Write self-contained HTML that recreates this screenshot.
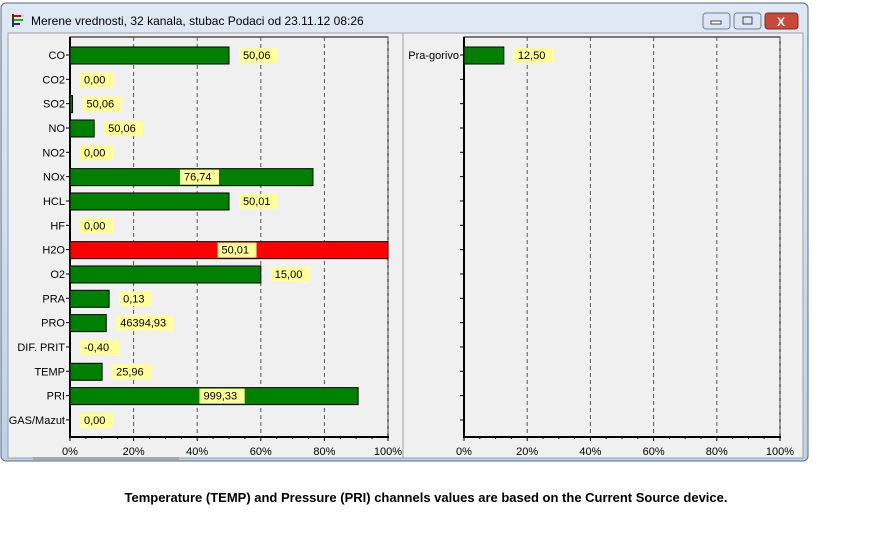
<!DOCTYPE html>
<html><head><meta charset="utf-8"><style>
body{margin:0;background:#fff;width:869px;height:537px;overflow:hidden;font-family:"Liberation Sans",sans-serif}
</style></head><body>
<svg width="869" height="537" xmlns="http://www.w3.org/2000/svg" font-family="Liberation Sans, sans-serif" font-size="11">
<defs><linearGradient id="tb" x1="0" y1="0" x2="0" y2="1"><stop offset="0" stop-color="#dfe9f5"/><stop offset="1" stop-color="#bcd1ea"/></linearGradient></defs>
<rect x="1" y="3" width="807" height="458" rx="5" fill="url(#tb)" stroke="#5a6a80"/>
<text x="31" y="25" font-size="12" fill="#000">Merene vrednosti, 32 kanala, stubac  Podaci od 23.11.12 08:26</text>
<g><rect x="12" y="14" width="2" height="13" fill="#333"/><rect x="14" y="15" width="7" height="2" fill="#c00"/><rect x="14" y="19" width="9" height="2" fill="#2a2"/><rect x="14" y="23" width="6" height="2" fill="#22c"/></g>
<rect x="703" y="13" width="27" height="16" rx="3" fill="#dce6f2" stroke="#6d7f99"/>
<rect x="711" y="21" width="10" height="3" fill="#fff" stroke="#445"/>
<rect x="734" y="13" width="27" height="16" rx="3" fill="#dce6f2" stroke="#6d7f99"/>
<rect x="743" y="17" width="9" height="7" fill="none" stroke="#445"/>
<rect x="765" y="13" width="33" height="16" rx="3" fill="#c9483a" stroke="#7a2a20"/>
<text x="781" y="26" text-anchor="middle" fill="#fff" font-weight="bold" font-size="12">X</text>
<rect x="8" y="33" width="795" height="425" fill="#f0f0f0" stroke="#a0a0a0"/>
<line x1="403" y1="33" x2="403" y2="458" stroke="#a0a0a0"/>
<rect x="33" y="457" width="146" height="3" fill="#a8a8a8"/>
<g id="left"></g>
<g id="right"></g>
<text x="426" y="502" text-anchor="middle" font-size="13" font-weight="bold">Temperature (TEMP) and Pressure (PRI) channels values are based on the Current Source device.</text>
</svg>
<script>
const leftCats=["CO","CO2","SO2","NO","NO2","NOx","HCL","HF","H2O","O2","PRA","PRO","DIF. PRIT","TEMP","PRI","GAS/Mazut"];
const leftPct=[50,0,0.8,7.6,0,76.4,50,0,100,60,12.3,11.4,0,10.1,90.6,0];
const leftLabels=["50,06","0,00","50,06","50,06","0,00","76,74","50,01","0,00","50,01","15,00","0,13","46394,93","-0,40","25,96","999,33","0,00"];
const leftAlarm=[0,0,0,0,0,0,0,0,1,0,0,0,0,0,0,0];
const rightCats=["Pra-gorivo"];
const rightPct=[12.6];
const rightLabels=["12,50"];
const rightAlarm=[0];
const ticks=["0%","20%","40%","60%","80%","100%"];
const NS="http://www.w3.org/2000/svg";
function mk(p,t,a){const e=document.createElementNS(NS,t);for(const k in a)e.setAttribute(k,a[k]);p.appendChild(e);return e;}
function chart(g,x0,x1,cats,pct,labels,alarm){
 const top=37,bot=437,row0=55,step=24.33;
 const X=v=>x0+(x1-x0)*v/100, Y=i=>row0+i*step;
 mk(g,"rect",{x:x0,y:top,width:x1-x0,height:bot-top,fill:"#f0f0f0",stroke:"#000","stroke-width":1});
 for(let k=1;k<ticks.length;k++){const l=mk(g,"line",{x1:X(k*20),y1:top,x2:X(k*20),y2:bot,stroke:"#555","stroke-dasharray":"4,3"});
 
 }
 mk(g,"line",{x1:x0,y1:top,x2:x0,y2:bot+1,stroke:"#000","stroke-width":2});
 mk(g,"line",{x1:x0,y1:bot,x2:x1+1,y2:bot,stroke:"#000","stroke-width":2});
 for(let k=0;k<=20;k++)mk(g,"line",{x1:X(k*5),y1:bot,x2:X(k*5),y2:bot+(k%4==0?4:2),stroke:"#000"});
 ticks.forEach((t,k)=>{const tx=mk(g,"text",{x:X(k*20),y:bot+18,"text-anchor":"middle"});tx.textContent=t;
 
 });
 for(let i=0;i<16;i++)mk(g,"line",{x1:x0-4,y1:Y(i),x2:x0,y2:Y(i),stroke:"#000"});
 cats.forEach((c,i)=>{
  const y=Y(i);
  const lb=mk(g,"text",{x:x0-5,y:y+4,"text-anchor":"end"});lb.textContent=c;
  
  
  const w=X(pct[i])-x0;
  if(w>0){const b=mk(g,"rect",{x:x0,y:y-8,width:w,height:17,fill:alarm[i]?"#ff0000":"#008000",stroke:"#000"});
  
  }
  const lw=labels[i].length*6.2+8;
  const inside=pct[i]>70;
  const lx=inside?x0+w/2-lw/2+8:x0+w+10;
  mk(g,"rect",{x:lx,y:y-7,width:lw,height:15,fill:"#ffff99"});
  const t=mk(g,"text",{x:lx+4,y:y+4});t.textContent=labels[i];
  
  
 });
}
chart(document.getElementById("left"),70,388,leftCats,leftPct,leftLabels,leftAlarm);
chart(document.getElementById("right"),464,780,rightCats,rightPct,rightLabels,rightAlarm);
</script>
</body></html>
